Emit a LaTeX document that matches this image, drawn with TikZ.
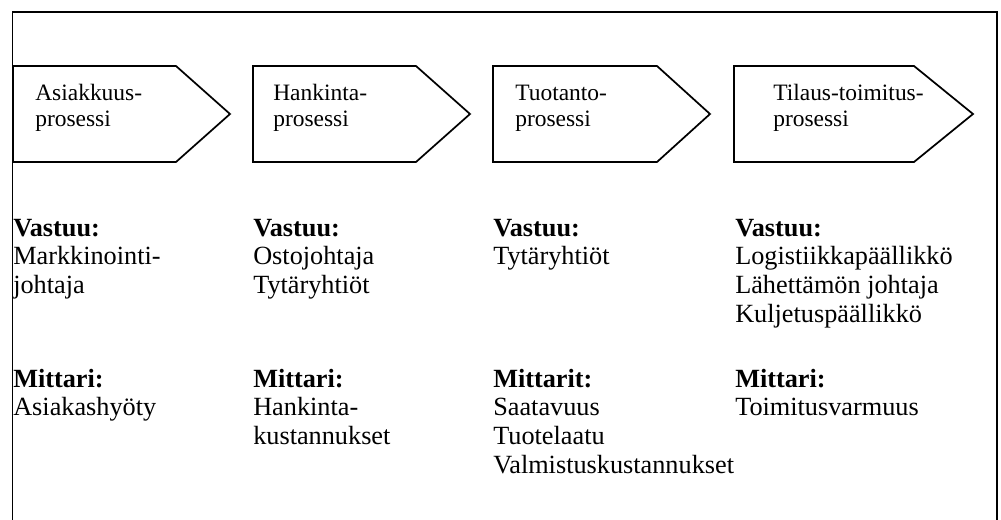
\documentclass[tikz,border=0pt]{standalone}
\usepackage{fontspec}
\setmainfont{Liberation Serif}
\begin{document}
\begin{tikzpicture}[x=0.75pt,y=-0.75pt,
  frameline/.style={line width=1.3pt, line join=miter},
  proc/.style={draw, line width=1.3pt, line join=miter},
  ptext/.style={anchor=north west, inner sep=0pt, align=left, font=\fontsize{17.6}{19.9}\selectfont},
  btext/.style={anchor=north west, inner sep=0pt, align=left, font=\fontsize{19.7}{21.5}\selectfont}]
\useasboundingbox (0,0) rectangle (1001,520);
% outer frame (bottom edge lies outside the picture)
\draw[frameline] (12.5,520) -- (12.5,12) -- (997,12) -- (997,520);
% process arrows
\draw[proc] (13,66) -- (176,66) -- (230,114) -- (176,162) -- (13,162) -- cycle;
\draw[proc] (253,66) -- (416,66) -- (470,114) -- (416,162) -- (253,162) -- cycle;
\draw[proc] (493,66) -- (657,66) -- (710,114) -- (657,162) -- (493,162) -- cycle;
\draw[proc] (734,66) -- (914,66) -- (973,114) -- (914,162) -- (734,162) -- cycle;
% arrow texts
\node[ptext] (p1) at (35,81.4) {\strut Asiakkuus-\\prosessi};
\node[ptext] (p2) at (273,81.4) {\strut Hankinta-\\prosessi};
\node[ptext] (p3) at (515,81.4) {\strut Tuotanto-\\prosessi};
\node[ptext] (p4) at (773,81.4) {\strut Tilaus-toimitus-\\prosessi};
% responsibilities
\node[btext] (v1) at (13,215.9) {\strut\textbf{Vastuu:}\\Markkinointi-\\johtaja};
\node[btext] (v2) at (253,215.9) {\strut\textbf{Vastuu:}\\Ostojohtaja\\Tytäryhtiöt};
\node[btext] (v3) at (493,215.9) {\strut\textbf{Vastuu:}\\Tytäryhtiöt};
\node[btext] (v4) at (735,215.9) {\strut\textbf{Vastuu:}\\Logistiikkapäällikkö\\Lähettämön johtaja\\Kuljetuspäällikkö};
% measures
\node[btext] (m1) at (13,366.9) {\strut\textbf{Mittari:}\\Asiakashyöty};
\node[btext] (m2) at (253,366.9) {\strut\textbf{Mittari:}\\Hankinta-\\kustannukset};
\node[btext] (m3) at (493,366.9) {\strut\textbf{Mittarit:}\\Saatavuus\\Tuotelaatu\\Valmistuskustannukset};
\node[btext] (m4) at (735,366.9) {\strut\textbf{Mittari:}\\Toimitusvarmuus};
\end{tikzpicture}
\end{document}
